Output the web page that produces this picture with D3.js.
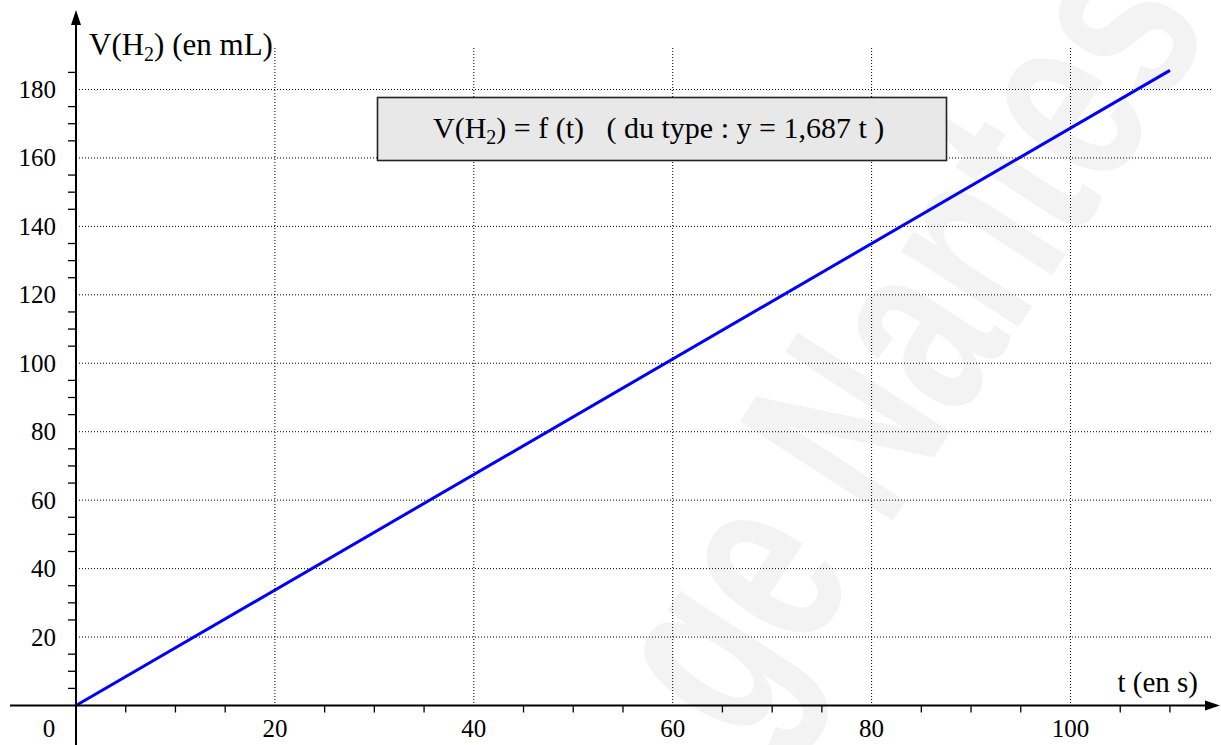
<!DOCTYPE html>
<html>
<head>
<meta charset="utf-8">
<script src="https://cdn.jsdelivr.net/npm/d3@7"></script>
<style>
  html, body { margin: 0; padding: 0; background: #fff; }
  text { font-family: "Liberation Serif", "Times New Roman", serif; fill: #000; }
</style>
</head>
<body>
<div id="chart"></div>
<script>
// données
const times = [0, 110]          // t (en s)
const volumes = [0, 185.6]      // V(H2) (en mL)
const xTickLabels = [20, 40, 60, 80, 100]
const yTickLabels = [20, 40, 60, 80, 100, 120, 140, 160, 180]
const xMinorTicks = [5, 10, 15, 25, 30, 35, 45, 50, 55, 65, 70, 75, 85, 90, 95, 105, 110]
const yMinorTicks = [5, 10, 15, 25, 30, 35, 45, 50, 55, 65, 70, 75, 85, 90, 95, 105, 110, 115, 125, 130, 135, 145, 150, 155, 165, 170, 175, 185]

const width = 1221, height = 745

const x = d3.scaleLinear().domain([0, 100]).range([76, 1070.5])
const y = d3.scaleLinear().domain([0, 180]).range([705.5, 89.5])

const svg = d3.select("#chart")
  .append("svg")
  .attr("width", width)
  .attr("height", height)
  .attr("viewBox", [0, 0, width, height])

// filigrane
svg.append("text")
  .attr("transform", "translate(979,388) rotate(-57) scale(0.68,1)")
  .attr("text-anchor", "middle")
  .style("font-family", "'Liberation Sans', Arial, sans-serif")
  .style("font-weight", "bold")
  .style("font-size", "265px")
  .style("fill", "#f3f3f3")
  .text("ge Nantes")

// grille pointillée
const grid = svg.append("g")
  .attr("stroke", "#000")
  .attr("stroke-width", 1)
  .attr("stroke-dasharray", "1,2")

grid.selectAll("line.h")
  .data(yTickLabels)
  .join("line")
  .attr("class", "h")
  .attr("x1", x(0))
  .attr("x2", 1213)
  .attr("y1", d => y(d))
  .attr("y2", d => y(d))

grid.selectAll("line.v")
  .data(xTickLabels)
  .join("line")
  .attr("class", "v")
  .attr("x1", d => x(d))
  .attr("x2", d => x(d))
  .attr("y1", 48)
  .attr("y2", y(0))

// droite V = f(t)
const line = d3.line()
  .x((d, i) => x(times[i]))
  .y(d => y(d))

svg.append("path")
  .datum(volumes)
  .attr("fill", "none")
  .attr("stroke", "#0000ff")
  .attr("stroke-width", 3)
  .attr("d", line)

// axes
const axes = svg.append("g").attr("stroke", "#000")

axes.selectAll("line.xt")
  .data(xMinorTicks)
  .join("line")
  .attr("class", "xt")
  .attr("x1", d => x(d))
  .attr("x2", d => x(d))
  .attr("y1", y(0))
  .attr("y2", y(0) + 7)
  .attr("stroke-width", 1.3)

axes.selectAll("line.yt")
  .data(yMinorTicks)
  .join("line")
  .attr("class", "yt")
  .attr("x1", x(0) - 8)
  .attr("x2", x(0))
  .attr("y1", d => y(d))
  .attr("y2", d => y(d))
  .attr("stroke-width", 1.3)

axes.append("line")
  .attr("x1", 10).attr("x2", 1208)
  .attr("y1", y(0)).attr("y2", y(0))
  .attr("stroke-width", 2)

axes.append("line")
  .attr("x1", x(0)).attr("x2", x(0))
  .attr("y1", 745).attr("y2", 22)
  .attr("stroke-width", 2)

// flèches
svg.append("path")
  .attr("d", `M1220,${y(0)} L1205,${y(0) - 5} L1205,${y(0) + 5} Z`)
  .attr("fill", "#000")
svg.append("path")
  .attr("d", `M${x(0)},10 L${x(0) - 5},25 L${x(0) + 5},25 Z`)
  .attr("fill", "#000")

// graduations
svg.selectAll("text.xl")
  .data(xTickLabels)
  .join("text")
  .attr("class", "xl")
  .attr("x", d => x(d))
  .attr("y", 737)
  .attr("text-anchor", "middle")
  .style("font-size", "25px")
  .text(d => d)

svg.append("text")
  .attr("x", 49)
  .attr("y", 737)
  .attr("text-anchor", "middle")
  .style("font-size", "25px")
  .text("0")

svg.selectAll("text.yl")
  .data(yTickLabels)
  .join("text")
  .attr("class", "yl")
  .attr("x", 56)
  .attr("y", d => y(d) + 8.5)
  .attr("text-anchor", "end")
  .style("font-size", "25px")
  .text(d => d)

// titres des axes
const yTitle = svg.append("text")
  .attr("x", 89)
  .attr("y", 55)
  .style("font-size", "31px")
yTitle.append("tspan").text("V(H")
yTitle.append("tspan").attr("dy", 6).style("font-size", "20px").text("2")
yTitle.append("tspan").attr("dy", -6).text(") (en mL)")

svg.append("text")
  .attr("x", 1198)
  .attr("y", 692)
  .attr("text-anchor", "end")
  .style("font-size", "29px")
  .text("t (en s)")

// cadre de l'équation
svg.append("rect")
  .attr("x", 377.5)
  .attr("y", 97.5)
  .attr("width", 569)
  .attr("height", 63)
  .attr("fill", "#e8e8e8")
  .attr("stroke", "#222")
  .attr("stroke-width", 1.6)

const eq = svg.append("text")
  .attr("x", 433)
  .attr("y", 138)
  .attr("xml:space", "preserve")
  .style("white-space", "pre")
  .style("font-size", "30px")
eq.append("tspan").text("V(H")
eq.append("tspan").attr("dy", 6).style("font-size", "20px").text("2")
eq.append("tspan").attr("dy", -6).text(") = f (t)   ( du type : y = 1,687 t )")
</script>
</body>
</html>
